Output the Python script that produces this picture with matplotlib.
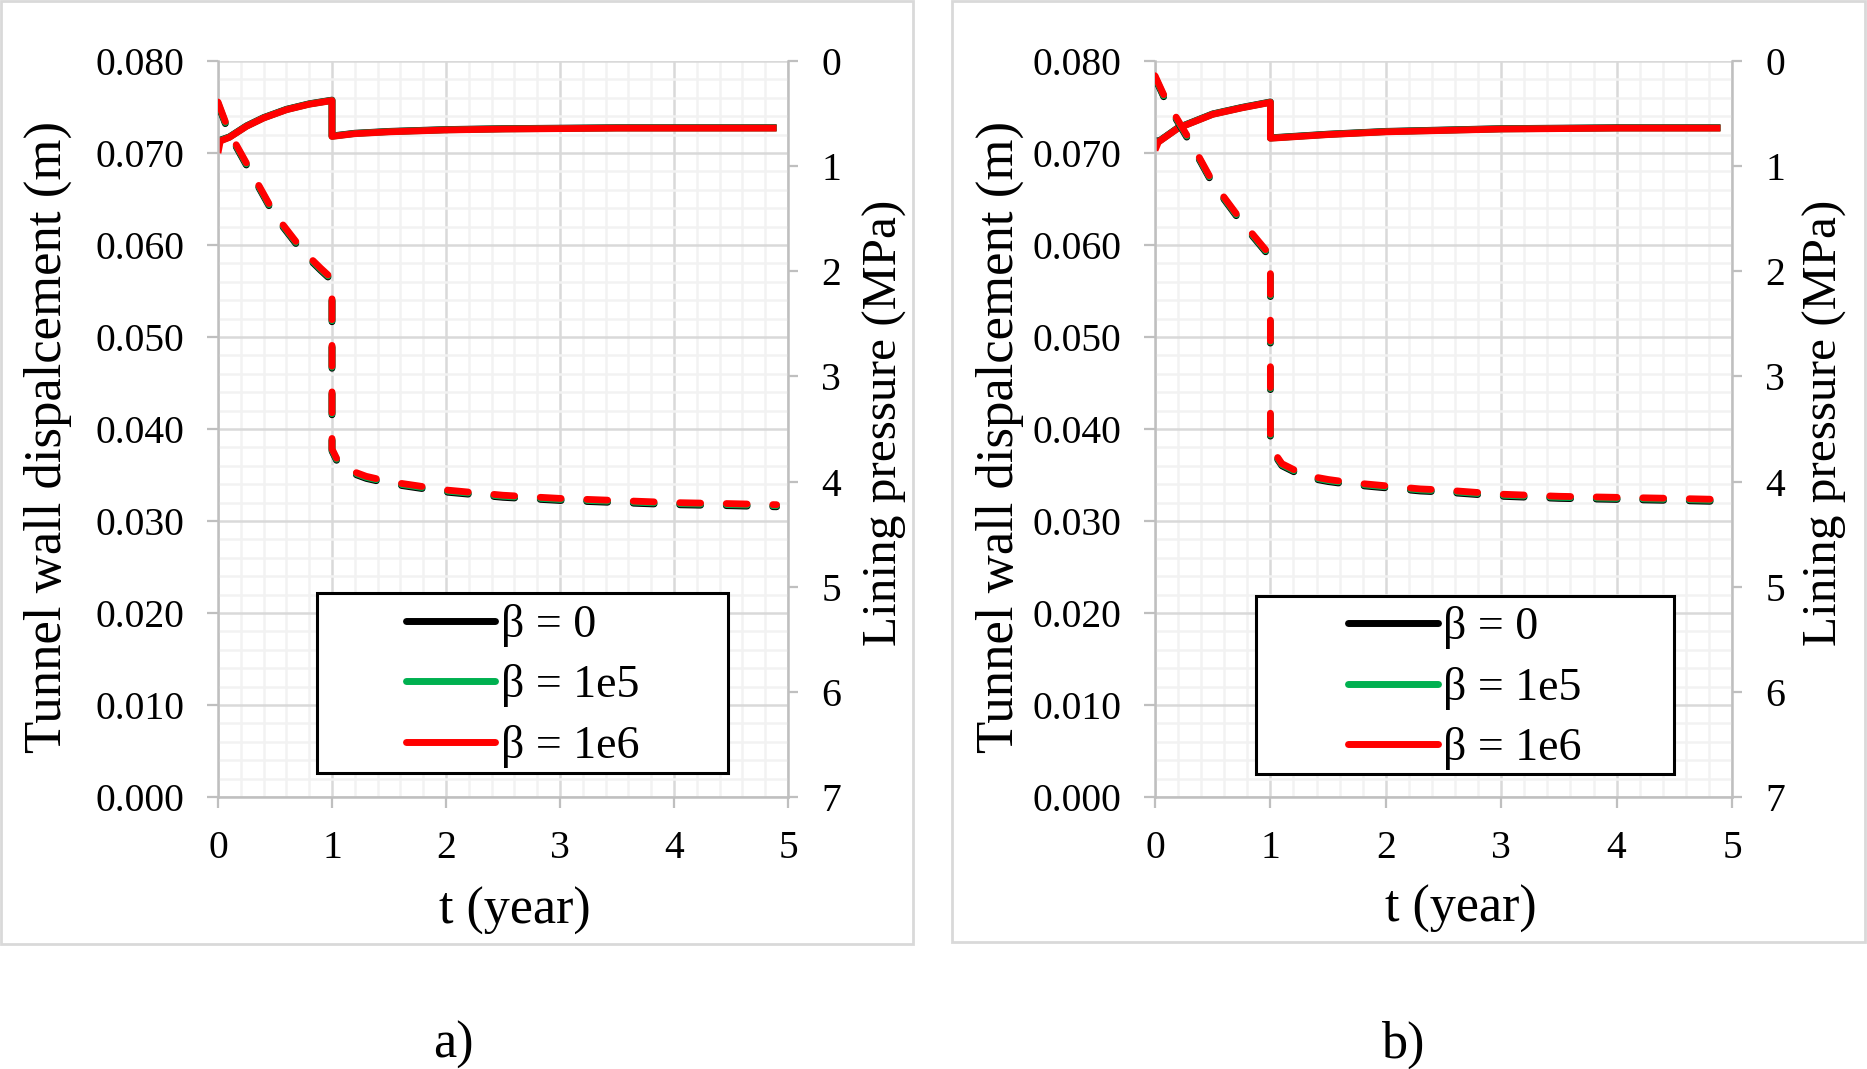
import matplotlib
matplotlib.use("Agg")
import matplotlib.pyplot as plt
from matplotlib.lines import Line2D
from matplotlib.patches import Rectangle
from matplotlib.ticker import MultipleLocator

plt.rcParams['font.family'] = ['Liberation Serif', 'DejaVu Serif']
plt.rcParams['lines.scale_dashes'] = False

W, H = 1867, 1069

# ---- data ----
# panel a) tunnel wall displacement (m), solid lines
t_disp_a = [0, 0.02, 0.1, 0.25, 0.4, 0.6, 0.8, 1.0, 1.0, 1.2, 1.5, 2.0, 2.5, 3.0, 3.5, 4.0, 4.5, 4.9]
disp_a_b0 = [0.0714, 0.0714, 0.07175, 0.07295, 0.07385, 0.07475, 0.07535, 0.07575, 0.07185, 0.07215, 0.07235, 0.07255, 0.07265, 0.0727, 0.07275, 0.07275, 0.07275, 0.07275]
disp_a_b1e5 = [0.0708, 0.07135, 0.07172, 0.07292, 0.07382, 0.07472, 0.07532, 0.07572, 0.07182, 0.07212, 0.07232, 0.07252, 0.07262, 0.07267, 0.07272, 0.07272, 0.07272, 0.07272]
disp_a_b1e6 = [0.0700, 0.0713, 0.0717, 0.0729, 0.0738, 0.0747, 0.0753, 0.0757, 0.0718, 0.0721, 0.0723, 0.0725, 0.0726, 0.07265, 0.0727, 0.0727, 0.0727, 0.0727]

# panel a) lining pressure (MPa), dashed lines
t_pres_a = [0, 0.1, 0.3, 0.5, 0.75, 0.9, 1.0, 1.0, 1.05, 1.1, 1.3, 1.5, 2.0, 2.5, 3.0, 3.5, 4.0, 4.5, 4.9]
pres_a_b0 = [0.41, 0.70, 1.09, 1.48, 1.83, 1.99, 2.09, 3.71, 3.82, 3.89, 3.97, 4.02, 4.10, 4.15, 4.18, 4.20, 4.22, 4.23, 4.24]
pres_a_b1e5 = [0.40, 0.69, 1.08, 1.47, 1.82, 1.98, 2.08, 3.70, 3.81, 3.88, 3.96, 4.01, 4.09, 4.14, 4.17, 4.19, 4.21, 4.22, 4.23]
pres_a_b1e6 = [0.39, 0.68, 1.07, 1.46, 1.81, 1.97, 2.07, 3.69, 3.80, 3.87, 3.95, 4.00, 4.08, 4.13, 4.16, 4.18, 4.20, 4.21, 4.22]

# panel b) tunnel wall displacement (m), solid lines
t_disp_b = [0, 0.03, 0.2, 0.5, 0.75, 1.0, 1.0, 1.5, 2.0, 3.0, 4.0, 4.9]
disp_b_b0 = [0.0714, 0.07125, 0.07275, 0.07425, 0.07495, 0.07555, 0.07165, 0.07205, 0.07235, 0.07265, 0.07275, 0.07275]
disp_b_b1e5 = [0.0709, 0.07122, 0.07272, 0.07422, 0.07492, 0.07552, 0.07162, 0.07202, 0.07232, 0.07262, 0.07272, 0.07272]
disp_b_b1e6 = [0.0703, 0.0712, 0.0727, 0.0742, 0.0749, 0.0755, 0.0716, 0.0720, 0.0723, 0.0726, 0.0727, 0.0727]

# panel b) lining pressure (MPa), dashed lines
t_pres_b = [0, 0.1, 0.3, 0.5, 0.75, 1.0, 1.0, 1.1, 1.3, 1.5, 1.7, 2.0, 2.3, 2.5, 3.0, 3.5, 4.0, 4.5, 4.9]
pres_b_b0 = [0.16, 0.40, 0.77, 1.17, 1.54, 1.87, 3.69, 3.85, 3.96, 4.00, 4.03, 4.06, 4.09, 4.10, 4.14, 4.16, 4.17, 4.18, 4.19]
pres_b_b1e5 = [0.15, 0.39, 0.76, 1.16, 1.53, 1.86, 3.68, 3.84, 3.95, 3.99, 4.02, 4.05, 4.08, 4.09, 4.13, 4.15, 4.16, 4.17, 4.18]
pres_b_b1e6 = [0.14, 0.38, 0.75, 1.15, 1.52, 1.85, 3.67, 3.83, 3.94, 3.98, 4.01, 4.04, 4.07, 4.08, 4.12, 4.14, 4.15, 4.16, 4.17]

labels = ['β = 0', 'β = 1e5', 'β = 1e6']
colors = ['#000000', '#00b050', '#ff0000']

x_ticks = [0, 1, 2, 3, 4, 5]
disp_ticks = [0.000, 0.010, 0.020, 0.030, 0.040, 0.050, 0.060, 0.070, 0.080]
pres_ticks = [0, 1, 2, 3, 4, 5, 6, 7]

GRID_MAJOR = '#d9d9d9'
GRID_MINOR = '#f2f2f2'
AXIS_GRAY = '#bfbfbf'
TICK_FS = 28.5
LEG_FS = 33
LABEL_FS = 38
LW = 4.9
DASH = (15, 18.5)


def px(x, y):
    # pixel coords (from top-left) -> figure fraction
    return x / W, 1 - y / H


def make_panel(fig, rect, t_disp, disps, t_pres, pres, legend_rect, lab_pos):
    ax = fig.add_axes(rect)
    ax2 = ax.twinx()

    for d, c in zip(disps, colors):
        ax.plot(t_disp, d, color=c, lw=LW, solid_capstyle='butt')
    for p, c in zip(pres, colors):
        ax2.plot(t_pres, p, color=c, lw=LW, dashes=DASH, dash_capstyle='round')

    ax.set_xlim(0, 5)
    ax.set_ylim(0, 0.080)
    ax2.set_ylim(7, 0)
    ax.set_xticks(x_ticks)
    ax.set_yticks(disp_ticks)
    ax.set_yticklabels([f'{v:.3f}' for v in disp_ticks])
    ax2.set_yticks(pres_ticks)
    ax.xaxis.set_minor_locator(MultipleLocator(0.2))
    ax.yaxis.set_minor_locator(MultipleLocator(0.002))

    ax.grid(True, which='minor', color=GRID_MINOR, lw=1.8, zorder=0)
    ax.grid(True, which='major', color=GRID_MAJOR, lw=1.8, zorder=0)
    ax.set_axisbelow(True)

    for a in (ax, ax2):
        for side in ('top', 'left', 'right', 'bottom'):
            a.spines[side].set_visible(False)
    ax.spines['left'].set_visible(True)
    ax.spines['bottom'].set_visible(True)
    ax2.spines['right'].set_visible(True)
    for s in (ax.spines['left'], ax.spines['bottom'], ax2.spines['right']):
        s.set_color(AXIS_GRAY)
        s.set_linewidth(1.8)

    ax.tick_params(which='major', direction='out', length=8, width=1.6, color=AXIS_GRAY,
                   labelsize=TICK_FS, pad=16)
    ax.tick_params(which='minor', length=0)
    ax2.tick_params(which='major', direction='out', length=7, width=1.6, color=AXIS_GRAY,
                    labelsize=TICK_FS, pad=17)

    # legend with a plain black box
    x0, y0, w, h = legend_rect
    ax2.add_patch(Rectangle((x0, y0), w, h, transform=ax2.transAxes, facecolor='white',
                            edgecolor='black', lw=2.2, zorder=20, clip_on=False))
    handles = [Line2D([0], [0], color=c, lw=5, solid_capstyle='round') for c in colors]
    leg = ax2.legend(handles, labels, loc='center', bbox_to_anchor=(x0 + w / 2, y0 + h / 2 - 0.004),
                     bbox_transform=ax2.transAxes, frameon=False, fontsize=LEG_FS,
                     handlelength=1.95, handletextpad=0.12, labelspacing=0.38, borderpad=0)
    leg.set_zorder(21)

    ylab, rlab, xlab, plab, ptxt = lab_pos
    fig.text(*px(*ylab), 'Tunnel wall dispalcement (m)', rotation=90, ha='center', va='center',
             fontsize=LABEL_FS)
    fig.text(*px(*rlab), 'Lining pressure (MPa)', rotation=90, ha='center', va='center',
             fontsize=35.5)
    fig.text(*px(*xlab), 't (year)', ha='center', va='center', fontsize=37.5)
    fig.text(*px(*plab), ptxt, ha='center', va='center', fontsize=37.5)
    return ax, ax2


fig = plt.figure(figsize=(W / 100, H / 100), dpi=100)

# panel borders
fig.add_artist(Rectangle(px(1, 944), 912 / W, 943 / H, transform=fig.transFigure,
                         facecolor='none', edgecolor='#d9d9d9', lw=2))
fig.add_artist(Rectangle(px(952, 942), 913 / W, 941 / H, transform=fig.transFigure,
                         facecolor='none', edgecolor='#d9d9d9', lw=2))

make_panel(fig, [218 / W, 1 - 797 / H, 570 / W, 736 / H],
           t_disp_a, [disp_a_b0, disp_a_b1e5, disp_a_b1e6],
           t_pres_a, [pres_a_b0, pres_a_b1e5, pres_a_b1e6],
           (0.174, 0.0326, 0.721, 0.2445),
           ((48, 437), (885, 423), (515, 911), (453, 1045), 'a)'))

make_panel(fig, [1155 / W, 1 - 797 / H, 577 / W, 736 / H],
           t_disp_b, [disp_b_b0, disp_b_b1e5, disp_b_b1e6],
           t_pres_b, [pres_b_b0, pres_b_b1e5, pres_b_b1e6],
           (0.175, 0.031, 0.724, 0.242),
           ((1000, 437), (1825, 423), (1461, 909), (1404, 1045), 'b)'))

fig.savefig('out.png', dpi=100)
